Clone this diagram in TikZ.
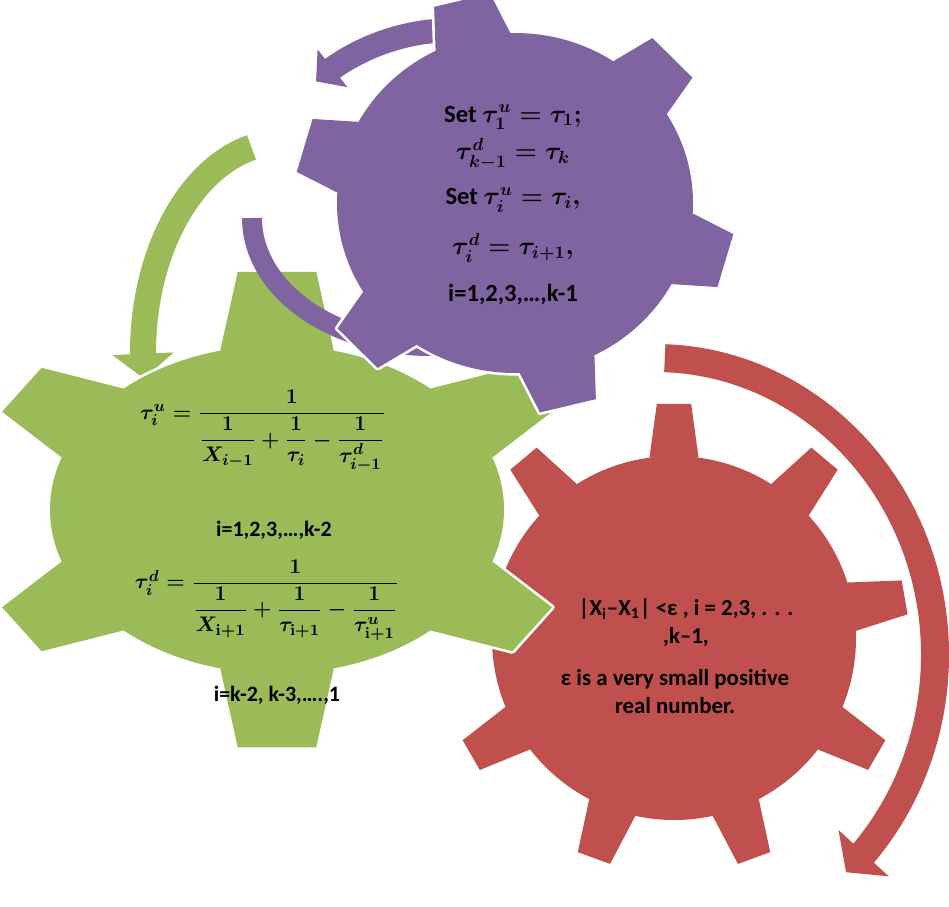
\documentclass[tikz,border=0pt]{standalone}
\usepackage{amsmath}
\usepackage[no-math]{fontspec}
\setmainfont{Carlito}
\usetikzlibrary{arrows.meta, bending, positioning}

\definecolor{gearPurple}{HTML}{8064A2}
\definecolor{gearGreen}{HTML}{9BBB59}
\definecolor{gearRed}{HTML}{C0504D}

% body is the unit circle of the scope, teeth are given as angle/tip radius
\newcommand{\gearpieces}[4]{%
  \path[#1] (0,0) circle[radius=1];
  \foreach \ang/\tipr in #2
    \path[#1] (\ang-#3:1) -- (\ang-#4:\tipr) -- (\ang+#4:\tipr) -- (\ang+#3:1) -- cycle;}

\def\redteeth{90/1.29, 50/1.29, 10/1.29, -30/1.29, -70/1.29, -110/1.29, -150/1.29, 170/1.29, 130/1.29}
\def\greenteeth{90/1.46, 270/1.46, 147/1.35, 213/1.35, 33/1.35, -33/1.35}
\def\purpleteeth{44/1.24, 104/1.24, 164/1.24, 224/1.24, 284/1.24, 344/1.24}

\begin{document}
\begin{tikzpicture}[x=0.02cm, y=0.02cm,
    gearEdge/.style={fill=white, draw=white, line width=3pt, line join=round},
    arrowBand/.style n args={3}{line width=#1, -{Triangle[length=#2, width=#3]}},
    purpleLine/.style={font=\fontsize{14}{17}\selectfont\bfseries\boldmath, inner sep=0pt},
    greenMath/.style={font=\fontsize{13}{16}\selectfont\bfseries\boldmath, inner sep=0pt},
    greenLine/.style={font=\fontsize{12.5}{15}\selectfont\bfseries, inner sep=0pt},
    redLine/.style={font=\fontsize{13}{15.9}\selectfont\bfseries, align=center, inner sep=0pt}
  ]
  \fill[white] (0,0) rectangle (949,-906);
  \useasboundingbox (0,0) rectangle (949,-906);

  \coordinate (redHub) at (655,-655);
  \coordinate (greenHub) at (283,-353);
  \coordinate (purpleHubLow) at (430,-218);
  \coordinate (purpleHubTop) at (455,-213);

  % red gear
  \draw[arrowBand={0.56cm}{0.52cm}{1.34cm}, gearRed]
    ([shift={(88:280 and 297)}]redHub) arc[start angle=88, end angle=-47, x radius=280, y radius=297];
  \begin{scope}[shift={(674,-638)}, scale=182]
    \gearpieces{gearEdge}{\redteeth}{7.75}{4.2}
    \gearpieces{fill=gearRed}{\redteeth}{7.75}{4.2}
  \end{scope}

  % green gear
  \draw[arrowBand={0.52cm}{0.5cm}{1.2cm}, gearGreen]
    ([shift={(103:140 and 211)}]greenHub) arc[start angle=103, end angle=187, x radius=140, y radius=211];
  \begin{scope}[shift={(277,-509.5)}, xscale=227, yscale=164]
    \gearpieces{gearEdge}{\greenteeth}{14.5}{6.8}
    \gearpieces{fill=gearGreen}{\greenteeth}{14.5}{6.8}
  \end{scope}

  % purple gear
  \draw[gearPurple, line width=0.4cm]
    ([shift={(180:178 and 128)}]purpleHubLow) arc[start angle=180, end angle=282, x radius=178, y radius=128];
  \draw[arrowBand={0.48cm}{0.42cm}{0.94cm}, gearPurple]
    ([shift={(80:200 and 183)}]purpleHubTop) arc[start angle=80, end angle=134, x radius=200, y radius=183];
  \begin{scope}[shift={(515,-203)}, xscale=178, yscale=170]
    \gearpieces{gearEdge}{\purpleteeth}{12.5}{7.5}
    \gearpieces{fill=gearPurple}{\purpleteeth}{12.5}{7.5}
  \end{scope}

  % purple text
  \node[purpleLine, anchor=base] (pUpFirst) at (513,-122) {Set $\tau_1^u=\tau_1;$};
  \node[purpleLine, below=0.76cm of pUpFirst.base, anchor=base] (pDownLast) {$\tau_{k-1}^d=\tau_k$};
  \node[purpleLine, below=0.9cm of pDownLast.base, anchor=base] (pUpAll) {Set $\tau_i^u=\tau_i,$};
  \node[purpleLine, below=1cm of pUpAll.base, anchor=base] (pDownAll) {$\tau_i^d=\tau_{i+1},$};
  \node[purpleLine, below=0.94cm of pDownAll.base, anchor=base] (pRange) {i=1,2,3,…,k-1};

  % green text
  \node[greenMath, anchor=base] (gUpFormula) at (263,-419)
    {$\tau_i^u=\dfrac{1}{\dfrac{1}{X_{i-1}}+\dfrac{1}{\tau_i}-\dfrac{1}{\tau_{i-1}^d}}$};
  \node[greenLine, below=2.36cm of gUpFormula.base, anchor=base, xshift=0.22cm] (gUpRange) {i=1,2,3,…,k-2};
  \node[greenMath, below=1.04cm of gUpRange.base, anchor=base, xshift=-0.14cm] (gDownFormula)
    {$\tau_i^d=\dfrac{1}{\dfrac{1}{X_{\mathrm{i+1}}}+\dfrac{1}{\tau_{\mathrm{i+1}}}-\dfrac{1}{\tau_{\mathrm{i+1}}^u}}$};
  \node[greenLine, below=2.26cm of gDownFormula.base, anchor=base, xshift=0.2cm] (gDownRange) {i=k-2, k-3,….,1};

  % red text
  \node[redLine] (rCondition) at (686,-623)
    {|X\textsubscript{i}–X\textsubscript{1}| <ε , i = 2,3, . . .\\,k–1,};
  \node[redLine, below=0.44cm of rCondition, xshift=-0.22cm] (rNote) {ε is a very small positive\\real number.};
\end{tikzpicture}
\end{document}
